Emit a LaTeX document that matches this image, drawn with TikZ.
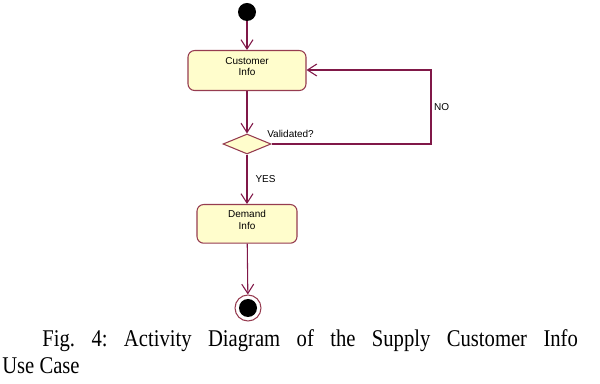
\documentclass[tikz,border=0pt]{standalone}
\usepackage{fontspec}
\setmainfont{Liberation Serif}
\setsansfont{Liberation Sans}
\usepackage{xcolor}
\usepackage{tikz}
\usetikzlibrary{arrows.meta, positioning, shapes.geometric}

\definecolor{flowline}{RGB}{128,24,72}
\definecolor{actborder}{RGB}{150,60,80}
\definecolor{actfill}{RGB}{255,253,204}

\begin{document}
\begin{tikzpicture}[x=0.75pt, y=-0.75pt, font=\sffamily\fontsize{7.5}{8.5}\selectfont,
  >={Straight Barb[length=7pt, width=9pt]},
  activity/.style = {draw=actborder, fill=actfill, rounded corners=5pt,
                     minimum width=88.5pt, minimum height=30pt, align=center,
                     line width=0.8pt, anchor=north, inner sep=0pt},
  decision/.style = {diamond, draw=actborder, fill=actfill, line width=0.8pt,
                     minimum width=36pt, minimum height=15pt, inner sep=0pt,
                     aspect=2.4},
  flow/.style     = {->, draw=flowline, line width=0.8pt},
  lbl/.style      = {inner sep=0pt}
]
  \useasboundingbox (0,0) rectangle (600,384);

  %% start and end
  \node[circle, fill=black, minimum size=13.5pt, inner sep=0pt] (start) at (247,12) {};
  \node[circle, draw=actborder, line width=0.8pt, fill=white,
        minimum size=19.5pt, inner sep=0pt] (stop) at (248,308) {};
  \node[circle, fill=black, minimum size=13.5pt, inner sep=0pt] at (stop) {};

  %% activities
  \node[activity] (cust) at (247,50) {\raisebox{6pt}{\shortstack{Customer\\Info}}};
  \node[activity, minimum width=75pt, minimum height=29pt] (demand) at (247,204)
       {\raisebox{6pt}{\shortstack{Demand\\Info}}};
  \node[decision] (valid) at (247,144) {};

  %% flows
  \draw[flow] (start) -- (cust);
  \draw[flow] (cust) -- (valid);
  \draw[flow] (valid) -- node[lbl, right=6pt]{YES} (demand);
  \draw[flow] (demand) -- (stop);

  %% NO loop back to customer info
  \coordinate (loopB) at (431,144);
  \coordinate (loopT) at (431,70);
  \draw[flow] (valid.east) -- (loopB) -- node[lbl, right=2pt]{NO} (loopT) -- (cust.east |- loopT);

  \node[lbl, anchor=south west] (vq) at (267,138) {Validated?};

  %% caption
  \node[anchor=base west, inner sep=0pt, font=\rmfamily\fontsize{18}{20}\selectfont]
       (caption) at (2,347)
       {\scalebox{0.86}[1]{\parbox[t]{502pt}{\frenchspacing\hspace*{35pt}Fig. 4: Activity
        Diagram of the Supply Customer Info\linebreak Use Case}}};
\end{tikzpicture}
\end{document}
